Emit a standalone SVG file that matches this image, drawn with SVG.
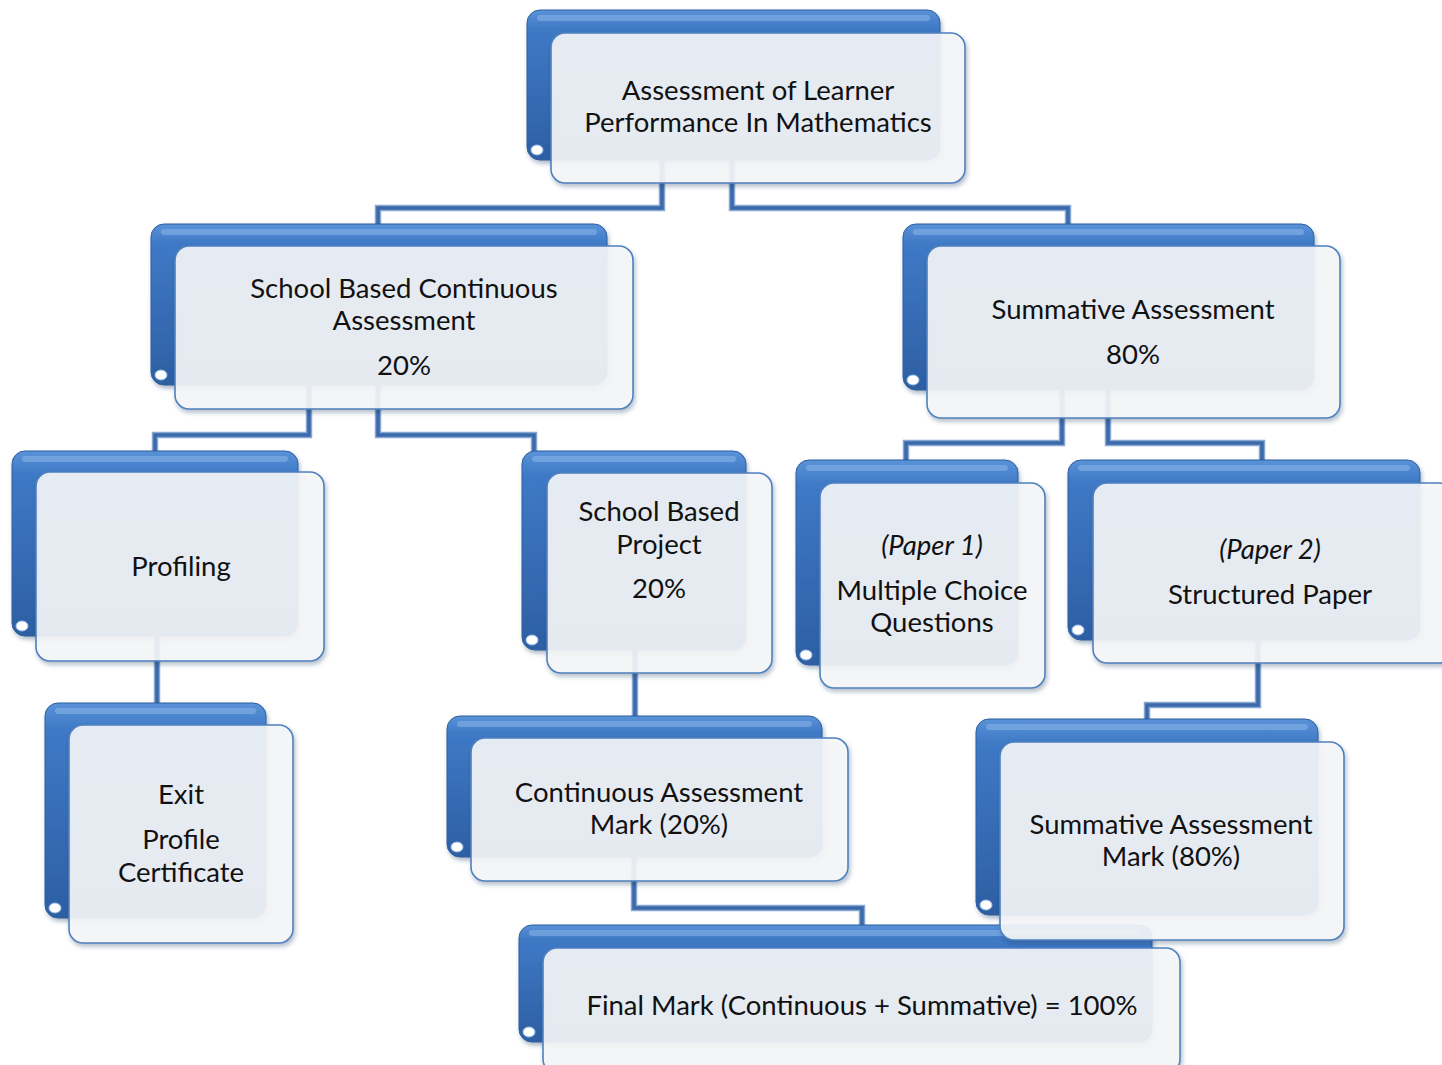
<svg xmlns="http://www.w3.org/2000/svg" width="1442" height="1065" viewBox="0 0 1442 1065">
  <defs>
    <linearGradient id="backFill" x1="0" y1="0" x2="0" y2="1">
      <stop offset="0" stop-color="#5a93d8"/>
      <stop offset="0.12" stop-color="#3f79c6"/>
      <stop offset="1" stop-color="#2d5fa3"/>
    </linearGradient>
    <filter id="shadow" x="-10%" y="-10%" width="120%" height="130%">
      <feDropShadow dx="1.5" dy="3" stdDeviation="2.2" flood-color="#1f3a60" flood-opacity="0.35"/>
    </filter>
  </defs>
  <style>
    .back { fill: url(#backFill); stroke: #2f5f9e; stroke-width: 1; filter: url(#shadow); }
    .topband { fill: #8cb6e8; opacity: 0.55; }
    .notch { fill: #ffffff; stroke: #9cbde6; stroke-width: 1; }
    .front { fill: #f6f7f9; fill-opacity: 0.9; stroke: #4f80bf; stroke-width: 1.6; filter: url(#shadow); }
    .wire-edge { fill: none; stroke: #86a7d2; stroke-width: 6.5; stroke-linejoin: miter; }
    .wire { fill: none; stroke: #3b69a9; stroke-width: 3.5; stroke-linejoin: miter; }
    text { font-family: Lato, "Open Sans", "Liberation Sans", sans-serif; font-size: 27.5px; fill: #111111; text-anchor: middle; }
    .it { font-style: italic; }
  </style>

  <rect width="1442" height="1065" fill="#ffffff"/>

  <!-- connectors: elbow lines from parent to child panels -->
  <g id="connectors">
    <g class="wire-edge">
      <path d="M662 160 V208 H378 V226"/>
      <path d="M732 160 V208 H1068 V226"/>
      <path d="M309 385 V435 H155 V453"/>
      <path d="M378 385 V435 H534 V453"/>
      <path d="M1062 390 V443 H906 V462"/>
      <path d="M1108 390 V443 H1262 V462"/>
      <path d="M157 636 V705"/>
      <path d="M635 650 V718"/>
      <path d="M1258 640 V705 H1147 V721"/>
      <path d="M634 857 V908 H862 V927"/>
    </g>
    <g class="wire">
      <path d="M662 160 V208 H378 V226"/>
      <path d="M732 160 V208 H1068 V226"/>
      <path d="M309 385 V435 H155 V453"/>
      <path d="M378 385 V435 H534 V453"/>
      <path d="M1062 390 V443 H906 V462"/>
      <path d="M1108 390 V443 H1262 V462"/>
      <path d="M157 636 V705"/>
      <path d="M635 650 V718"/>
      <path d="M1258 640 V705 H1147 V721"/>
      <path d="M634 857 V908 H862 V927"/>
    </g>
  </g>

  <g id="node-root">
    <rect class="back" x="527" y="10" width="413" height="150" rx="13"/>
    <rect class="topband" x="537" y="15" width="393" height="6" rx="3"/>
    <ellipse class="notch" cx="537" cy="150" rx="6" ry="5"/>
    <rect class="front" x="551" y="33" width="414" height="150" rx="14"/>
    <text x="758" y="100">Assessment of Learner</text>
    <text x="758" y="132">Performance In Mathematics</text>
  </g>

  <g id="node-sbca">
    <rect class="back" x="151" y="224" width="456" height="161" rx="13"/>
    <rect class="topband" x="161" y="229" width="436" height="6" rx="3"/>
    <ellipse class="notch" cx="161" cy="375" rx="6" ry="5"/>
    <rect class="front" x="175" y="246" width="458" height="163" rx="14"/>
    <text x="404" y="298">School Based Continuous</text>
    <text x="404" y="330">Assessment</text>
    <text x="404" y="375">20%</text>
  </g>

  <g id="node-summative">
    <rect class="back" x="903" y="224" width="411" height="166" rx="13"/>
    <rect class="topband" x="913" y="229" width="391" height="6" rx="3"/>
    <ellipse class="notch" cx="913" cy="380" rx="6" ry="5"/>
    <rect class="front" x="927" y="246" width="413" height="172" rx="14"/>
    <text x="1133" y="319">Summative Assessment</text>
    <text x="1133" y="364">80%</text>
  </g>

  <g id="node-profiling">
    <rect class="back" x="12" y="451" width="286" height="185" rx="13"/>
    <rect class="topband" x="22" y="456" width="266" height="6" rx="3"/>
    <ellipse class="notch" cx="22" cy="626" rx="6" ry="5"/>
    <rect class="front" x="36" y="472" width="288" height="189" rx="14"/>
    <text x="181" y="576">Profiling</text>
  </g>

  <g id="node-project">
    <rect class="back" x="522" y="451" width="224" height="199" rx="13"/>
    <rect class="topband" x="532" y="456" width="204" height="6" rx="3"/>
    <ellipse class="notch" cx="532" cy="640" rx="6" ry="5"/>
    <rect class="front" x="547" y="473" width="225" height="200" rx="14"/>
    <text x="659" y="521">School Based</text>
    <text x="659" y="554">Project</text>
    <text x="659" y="598">20%</text>
  </g>

  <g id="node-paper1">
    <rect class="back" x="796" y="460" width="222" height="205" rx="13"/>
    <rect class="topband" x="806" y="465" width="202" height="6" rx="3"/>
    <ellipse class="notch" cx="806" cy="655" rx="6" ry="5"/>
    <rect class="front" x="820" y="483" width="225" height="205" rx="14"/>
    <text class="it" x="932" y="555">(Paper 1)</text>
    <text x="932" y="600">Multiple Choice</text>
    <text x="932" y="632">Questions</text>
  </g>

  <g id="node-paper2">
    <rect class="back" x="1068" y="460" width="352" height="180" rx="13"/>
    <rect class="topband" x="1078" y="465" width="332" height="6" rx="3"/>
    <ellipse class="notch" cx="1078" cy="630" rx="6" ry="5"/>
    <rect class="front" x="1093" y="483" width="360" height="180" rx="14"/>
    <text class="it" x="1270" y="559">(Paper 2)</text>
    <text x="1270" y="604">Structured Paper</text>
  </g>

  <g id="node-exit">
    <rect class="back" x="45" y="703" width="221" height="215" rx="13"/>
    <rect class="topband" x="55" y="708" width="201" height="6" rx="3"/>
    <ellipse class="notch" cx="55" cy="908" rx="6" ry="5"/>
    <rect class="front" x="69" y="725" width="224" height="218" rx="14"/>
    <text x="181" y="804">Exit</text>
    <text x="181" y="849">Profile</text>
    <text x="181" y="882">Certificate</text>
  </g>

  <g id="node-ca-mark">
    <rect class="back" x="447" y="716" width="375" height="141" rx="13"/>
    <rect class="topband" x="457" y="721" width="355" height="6" rx="3"/>
    <ellipse class="notch" cx="457" cy="847" rx="6" ry="5"/>
    <rect class="front" x="471" y="738" width="377" height="143" rx="14"/>
    <text x="659" y="802">Continuous Assessment</text>
    <text x="659" y="834">Mark (20%)</text>
  </g>

  <g id="node-final">
    <rect class="back" x="519" y="925" width="633" height="117" rx="13"/>
    <rect class="topband" x="529" y="930" width="613" height="6" rx="3"/>
    <ellipse class="notch" cx="529" cy="1032" rx="6" ry="5"/>
    <rect class="front" x="543" y="948" width="637" height="125" rx="14"/>
    <text x="862" y="1015">Final Mark (Continuous + Summative) = 100%</text>
  </g>

  <g id="node-sa-mark">
    <rect class="back" x="976" y="719" width="342" height="196" rx="13"/>
    <rect class="topband" x="986" y="724" width="322" height="6" rx="3"/>
    <ellipse class="notch" cx="986" cy="905" rx="6" ry="5"/>
    <rect class="front" x="1000" y="742" width="344" height="198" rx="14"/>
    <text x="1171" y="834">Summative Assessment</text>
    <text x="1171" y="866">Mark (80%)</text>
  </g>
</svg>
